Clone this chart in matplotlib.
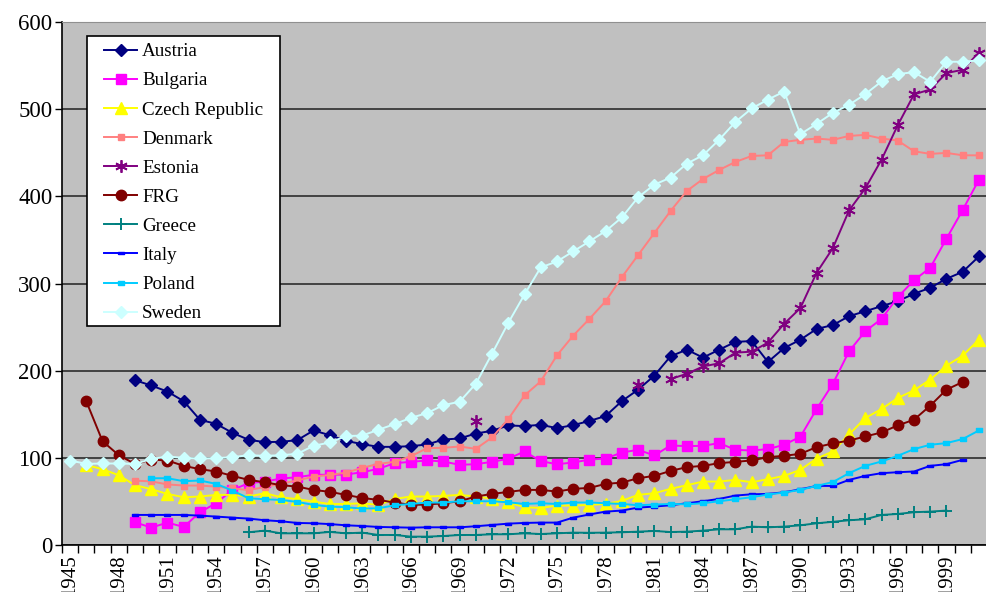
import numpy as np
import matplotlib
matplotlib.use("Agg")
import matplotlib.pyplot as plt
from matplotlib.patches import Rectangle

# Data (index values, 1945-2001)
austria_start = 1949
austria = [189, 183, 176, 165, 143.6, 139, 128.7, 120.7, 118, 118.4, 120.3, 131.4, 126, 119.5,
           115.7, 112.6, 112.6, 113.4, 115.3, 121, 122.2, 127.9, 131, 137.2, 136.4, 137.9, 134.1,
           137.5, 142.3, 148, 165.1, 178.2, 194.3, 216.5, 224.1, 215, 224.1, 233, 234, 210, 226,
           235.5, 247.9, 252.3, 262.5, 268.2, 274, 279.7, 288.2, 295.1, 305.4, 313.4, 331]

bulgaria_start = 1949
bulgaria = [26, 20, 25.7, 20.7, 37.6, 48, 63.2, 70.9, 72.8, 76.2, 77.8, 80.5, 80.6, 80.8, 83.5,
            87.4, 93.9, 95.4, 97, 95.8, 92, 92.7, 95.4, 98.9, 107.3, 96.2, 92.7, 94.6, 98, 99.2,
            106.1, 109.2, 102.7, 114.2, 113.4, 113.8, 116.9, 109.2, 108.4, 110, 115, 124.2, 155.9,
            185, 222.2, 245.2, 259.4, 284.3, 303.8, 318, 351.3, 384.3, 419]

czech_start = 1946
czech = [91.6, 87, 80, 68.6, 64, 58.6, 54.8, 55.6, 57.5, 57.5, 55.6, 59.4, 54.8, 52.5, 49.8, 47,
         47.1, 47.9, 46, 52.9, 55.6, 55.6, 56.3, 57.5, 55.6, 53.3, 49, 43.3, 42.5, 45.2, 45.2, 46,
         47.1, 50.6, 57.5, 59.4, 64.4, 68.6, 72.8, 72.8, 74.7, 72, 75.5, 79.3, 86.2, 99.2, 107.3,
         126.8, 145.6, 156, 168.6, 177.4, 189.7, 205.7, 217.2, 235.6]

denmark_start = 1949
denmark = [73.8, 73, 69.5, 68.2, 68.2, 67, 65, 63, 66.5, 70.5, 74, 78.5, 80.3, 83, 88.5, 93.1,
           95.4, 101.9, 111.1, 111.5, 113, 110.3, 123.4, 144.4, 171.6, 187.7, 217.6, 240.2, 259.4,
           279.7, 307.3, 332.6, 357.9, 383.2, 406.1, 419.9, 430.3, 439.5, 446.3, 447.1, 462.4,
           464.8, 466.3, 464.8, 469.3, 470.5, 466.3, 464, 451.7, 448.7, 449.8, 447.1, 447]

estonia_years = [1970, 1980] + list(range(1982, 2002))
estonia = [142.2, 184, 190.4, 196.4, 204.8, 208.5, 220.7, 221.8, 232.2, 253.8, 271.8, 312.3,
           340.6, 383.8, 409.2, 442, 481.6, 516.9, 522.6, 541.4, 545.2, 565]

frg_start = 1946
frg = [164.7, 119, 103, 93, 98, 96.9, 90.8, 87, 84.3, 79.3, 74.7, 72, 68.6, 67, 63.2, 61, 57.5,
       54, 51.7, 48.7, 46, 46.4, 47.9, 50.2, 55.6, 58.6, 60.9, 63.2, 63.2, 61.3, 64.4, 65.5,
       70.1, 71.6, 76.6, 79.3, 85, 89.3, 90.8, 93.9, 95.4, 97, 100.8, 102.3, 104.6, 112.3,
       116.5, 119.8, 124.5, 129.1, 137.2, 143.7, 159.8, 178.2, 187]

greece_start = 1956
greece = [14.6, 16.5, 13.4, 13.4, 13.4, 15, 13.4, 14.2, 11.5, 11.5, 9.6, 9.6, 10.3, 11.5, 11.5,
          12.3, 12.3, 13.4, 12.6, 13.4, 14.2, 14, 14.2, 14.6, 15.3, 16.1, 14.9, 15.3, 16.5, 18,
          18, 21.1, 20.3, 21.1, 22.6, 24.9, 26.6, 28.4, 29.5, 34.5, 35.6, 37.6, 38.3, 39.5]

italy_start = 1949
italy = [34.5, 34.5, 34.5, 34.5, 33.7, 32.6, 31.4, 30.3, 28.4, 27.2, 25.3, 24.9, 24, 22.6, 21.8,
         20.7, 20.3, 19.9, 20.3, 20.3, 20.3, 21.5, 23, 24.5, 25.3, 25.7, 25.7, 31.4, 35, 38.3,
         39.5, 42.9, 44.1, 45.6, 47.9, 50.2, 52.9, 56.7, 58.2, 58.6, 60.5, 63.9, 67.8, 67.8,
         74.7, 79.3, 82.4, 83.5, 84.3, 90.8, 92.7, 97.7]

poland_start = 1950
poland = [76.6, 76.6, 73.2, 74, 70.1, 62.5, 53.6, 52.5, 51.7, 49.4, 46, 44.1, 43.3, 41.8, 42.1,
          45.6, 47.1, 48.7, 48.7, 50.2, 50.2, 50.2, 49, 47.1, 47.9, 47.1, 48.7, 48.8, 47.9, 47.1,
          45.6, 46.4, 47.1, 46.7, 47.9, 50.2, 52.5, 54.8, 57.9, 60.2, 63.2, 67.8, 72.2, 82.4,
          90.8, 95.8, 102.3, 110, 115, 116.9, 121.5, 131.4]

sweden_start = 1945
sweden = [96.9, 93.1, 93.5, 93.5, 93, 98.7, 101.5, 100, 99.3, 99.6, 100.8, 103, 102.3, 103,
          104.6, 113.8, 117.6, 124.9, 125.6, 132.2, 138.7, 145.9, 151.3, 160.5, 164.3, 185, 219.5,
          254.8, 287.4, 318.4, 325.3, 336.8, 348.3, 360.2, 375.8, 398.9, 413.4, 421.5, 437.5,
          447.1, 465, 485.4, 500.8, 511, 520.2, 471.3, 483.1, 495.7, 505, 517.2, 531.8, 540.2,
          542.5, 531.4, 554.4, 554.4, 556]

# Estonia has gaps, so put it on the full year range
all_years = np.arange(1945, 2002)
estonia_full = np.full(len(all_years), np.nan)
for yr, val in zip(estonia_years, estonia):
    estonia_full[yr - 1945] = val


def years_from(start, values):
    return np.arange(start, start + len(values))


plt.rcParams['font.family'] = ['Liberation Serif', 'DejaVu Serif']
axis_fs = 16.5
xlabel_fs = 15
legend_fs = 13.7

fig = plt.figure(figsize=(9.87, 5.92), dpi=100)
ax = fig.add_axes([62 / 987, 47 / 592, 925 / 987, 523 / 592])
ax.set_facecolor('#C0C0C0')

rect_marker = [(-1, -0.5), (1, -0.5), (1, 0.5), (-1, 0.5), (-1, -0.5)]

series = [
    ("Austria", years_from(austria_start, austria), austria,
     dict(color='#000080', marker='D', ms=6)),
    ("Bulgaria", years_from(bulgaria_start, bulgaria), bulgaria,
     dict(color='#FF00FF', marker='s', ms=7)),
    ("Czech Republic", years_from(czech_start, czech), czech,
     dict(color='#FFFF00', marker='^', ms=8)),
    ("Denmark", years_from(denmark_start, denmark), denmark,
     dict(color='#FF8080', marker='s', ms=4.5)),
    ("Estonia", all_years, estonia_full,
     dict(color='#800080', marker=(6, 2, 0), ms=9, mew=1.3)),
    ("FRG", years_from(frg_start, frg), frg,
     dict(color='#800000', marker='o', ms=7.5)),
    ("Greece", years_from(greece_start, greece), greece,
     dict(color='#008080', marker='+', ms=8, mew=1.4)),
    ("Italy", years_from(italy_start, italy), italy,
     dict(color='#0000FF', marker=rect_marker, ms=4)),
    ("Poland", years_from(poland_start, poland), poland,
     dict(color='#00CCFF', marker=rect_marker, ms=5)),
    ("Sweden", years_from(sweden_start, sweden), sweden,
     dict(color='#CCFFFF', marker='D', ms=6)),
]

for name, x, y, style in series:
    ax.plot(x, y, label=name, lw=1.4, **style)

# axes range and ticks
ax.set_xlim(1944.5, 1944.5 + 925 / 16.37)
ax.set_ylim(0, 600)
ax.set_yticks(np.arange(0, 601, 100))
ax.yaxis.grid(True, color='#202020', lw=1.1)
ax.set_axisbelow(True)

ax.set_xticks(np.arange(1944.5, 2002, 1), minor=True)
ax.set_xticks(np.arange(1945, 2002, 3))
ax.set_xticklabels([str(y) for y in range(1945, 2002, 3)], rotation=90)
ax.tick_params(axis='x', which='major', length=0, pad=7, labelsize=xlabel_fs)
ax.tick_params(axis='x', which='minor', length=6, width=1, color='black', direction='out')
ax.tick_params(axis='y', length=5, width=1, direction='out', pad=2, labelsize=axis_fs)

for side in ['left', 'bottom']:
    ax.spines[side].set_color('black')
    ax.spines[side].set_linewidth(1.2)
ax.spines['top'].set_color('#909090')
ax.spines['right'].set_visible(False)

# legend box drawn by hand, entries placed inside it
box = Rectangle((87 / 987, 1 - 326 / 592), (280 - 87) / 987, (326 - 36) / 592,
                transform=fig.transFigure, facecolor='white', edgecolor='black',
                lw=1.2, zorder=4, clip_on=False)
ax.add_patch(box)

leg = ax.legend(loc='upper left', bbox_to_anchor=(104 / 987, 1 - 43 / 592),
                bbox_transform=fig.transFigure, frameon=False, fontsize=legend_fs,
                borderpad=0, handlelength=1.75, handletextpad=0.25,
                labelspacing=0.62, borderaxespad=0)
leg.set_zorder(6)

fig.savefig("out.png", dpi=100)
